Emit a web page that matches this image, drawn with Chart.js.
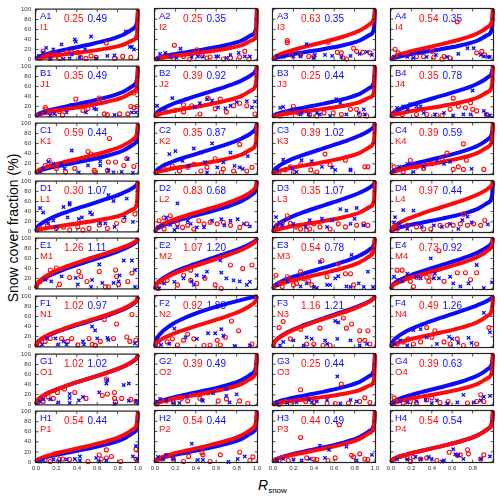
<!DOCTYPE html>
<html>
<head>
<meta charset="utf-8">
<script src="https://cdn.jsdelivr.net/npm/chart.js@4.4.0/dist/chart.umd.min.js"></script>
<style>
  body { margin: 0; background: #fff; }
  #wrap { position: relative; width: 500px; height: 497px; overflow: hidden; font-family: "Liberation Sans", Arial, sans-serif; }
  #wrap canvas { position: absolute; }
  #ylab { position: absolute; left: 13px; top: 228px; transform: translate(-50%, -50%) rotate(-90deg); font-size: 14px; white-space: nowrap; color: #000; }
  #xlab { position: absolute; left: 258px; top: 478px; font-size: 14px; line-height: 14px; font-style: italic; color: #000; }
  #xlab sub { font-size: 8px; font-style: normal; vertical-align: -3px; }
</style>
</head>
<body>
<div id="wrap">
  <div id="ylab">Snow cover fraction (%)</div>
  <div id="xlab">R<sub>snow</sub></div>
</div>
<script>
// panel names, row by row (A1..H4 in blue, I1..P4 in red)
const blueNames = ['A1','A2','A3','A4','B1','B2','B3','B4','C1','C2','C3','C4','D1','D2','D3','D4',
                   'E1','E2','E3','E4','F1','F2','F3','F4','G1','G2','G3','G4','H1','H2','H3','H4'];
const redNames  = ['I1','I2','I3','I4','J1','J2','J3','J4','K1','K2','K3','K4','L1','L2','L3','L4',
                   'M1','M2','M3','M4','N1','N2','N3','N4','O1','O2','O3','O4','P1','P2','P3','P4'];
const redParam  = ['0.25','0.25','0.63','0.54','0.35','0.39','0.25','0.35','0.59','0.35','0.39','0.39',
                   '0.30','0.83','0.35','0.97','1.26','1.07','0.54','0.73','1.02','0.92','1.16','0.49',
                   '1.02','0.39','0.25','0.39','0.54','0.54','0.44','0.54'];
const blueParam = ['0.49','0.35','0.35','0.35','0.49','0.92','0.44','0.78','0.44','0.87','1.02','0.59',
                   '1.07','0.68','1.07','0.44','1.11','1.20','0.78','0.92','0.97','1.88','1.21','1.26',
                   '1.02','0.49','0.44','0.63','0.44','0.44','0.49','0.54'];

// fitted curves, y (%) at these Rsnow knots, one row per printed value
const curveX = [0, 0.01, 0.05, 0.15, 0.3, 0.5, 0.7, 0.85, 0.95, 0.99, 1];
const curveY = {
  '0.25': [0, 1.6, 3.8, 7.0, 10.9, 15.9, 22.1, 29.1, 38.4, 49.8, 100],
  '0.30': [0, 2.0, 4.5, 8.4, 12.9, 18.8, 25.8, 33.8, 44.1, 56.2, 100],
  '0.35': [0, 2.3, 5.3, 9.7, 14.9, 21.5, 29.5, 38.2, 49.3, 61.8, 100],
  '0.39': [0, 2.5, 5.9, 10.8, 16.4, 23.7, 32.2, 41.5, 53.1, 65.8, 100],
  '0.44': [0, 2.9, 6.6, 12.1, 18.3, 26.3, 35.5, 45.4, 57.4, 70.2, 100],
  '0.49': [0, 3.2, 7.3, 13.3, 20.2, 28.8, 38.6, 49.0, 61.4, 74.0, 100],
  '0.54': [0, 3.5, 8.0, 14.6, 22.0, 31.2, 41.6, 52.4, 64.9, 77.4, 100],
  '0.59': [0, 3.8, 8.7, 15.8, 23.8, 33.6, 44.5, 55.5, 68.2, 80.3, 100],
  '0.63': [0, 4.1, 9.3, 16.8, 25.2, 35.4, 46.6, 57.9, 70.6, 82.3, 100],
  '0.68': [0, 4.4, 10.0, 18.0, 26.9, 37.6, 49.2, 60.7, 73.3, 84.6, 100],
  '0.73': [0, 4.7, 10.7, 19.2, 28.5, 39.7, 51.7, 63.3, 75.8, 86.6, 100],
  '0.78': [0, 5.0, 11.4, 20.4, 30.2, 41.8, 54.0, 65.7, 78.0, 88.3, 100],
  '0.83': [0, 5.3, 12.1, 21.5, 31.8, 43.7, 56.3, 68.0, 80.0, 89.8, 100],
  '0.87': [0, 5.6, 12.6, 22.4, 33.0, 45.3, 58.0, 69.7, 81.5, 90.9, 100],
  '0.92': [0, 5.9, 13.3, 23.6, 34.5, 47.2, 60.0, 71.7, 83.2, 92.1, 100],
  '0.97': [0, 6.2, 14.0, 24.7, 36.0, 49.0, 62.0, 73.6, 84.8, 93.1, 100],
  '1.02': [0, 6.5, 14.6, 25.8, 37.5, 50.7, 63.8, 75.4, 86.2, 94.0, 100],
  '1.07': [0, 6.8, 15.3, 26.8, 38.9, 52.4, 65.6, 77.0, 87.5, 94.7, 100],
  '1.11': [0, 7.1, 15.8, 27.7, 40.0, 53.7, 66.9, 78.2, 88.4, 95.3, 100],
  '1.16': [0, 7.4, 16.5, 28.7, 41.4, 55.2, 68.5, 79.7, 89.5, 95.9, 100],
  '1.20': [0, 7.6, 17.0, 29.6, 42.5, 56.5, 69.8, 80.8, 90.3, 96.3, 100],
  '1.21': [0, 7.7, 17.1, 29.8, 42.7, 56.8, 70.1, 81.0, 90.4, 96.4, 100],
  '1.26': [0, 8.0, 17.7, 30.8, 44.0, 58.2, 71.5, 82.3, 91.3, 96.9, 100],
  '1.88': [0, 11.7, 25.3, 42.2, 57.9, 72.8, 84.7, 92.4, 97.4, 99.4, 100]
};

// observations: flat x,y lists per panel (blue crosses / red circles)
const blueObs = [
  [0.10,23, 0.17,20, 0.25,30, 0.38,40, 0.39,36, 0.54,46, 0.48,20, 0.35,10, 0.43,4, 0.70,7, 0.77,8, 0.88,56, 0.92,25, 0.94,25, 0.96,20, 0.27,1, 0.03,7, 0.07,14, 0.59,2, 0.33,2, 0.14,2],
  [0.05,12, 0.10,14, 0.25,22, 0.15,7, 0.21,4, 0.36,6, 0.42,7, 0.47,6, 0.60,7, 0.62,7, 0.70,4, 0.74,10, 0.82,14, 0.88,7, 0.93,7, 0.03,2],
  [0.04,8, 0.10,6, 0.20,7, 0.27,7, 0.33,31, 0.41,10, 0.51,10, 0.58,8, 0.67,6, 0.76,8, 0.85,12, 0.92,16, 0.97,10, 0.40,4],
  [0.03,6, 0.09,8, 0.16,6, 0.29,14, 0.35,6, 0.44,10, 0.55,6, 0.66,12, 0.75,23, 0.81,23, 0.88,10, 0.91,7, 0.95,6, 0.97,6, 0.22,4],
  [0.04,5, 0.09,8, 0.18,5, 0.30,8, 0.35,23, 0.49,8, 0.57,16, 0.59,14, 0.77,3, 0.94,8, 0.98,8, 0.14,2],
  [0.02,22, 0.08,16, 0.17,37, 0.25,29, 0.31,35, 0.39,19, 0.44,27, 0.51,35, 0.56,32, 0.62,19, 0.69,17, 0.74,22, 0.80,29, 0.90,31, 0.98,30, 0.95,19],
  [0.07,18, 0.10,20, 0.20,15, 0.28,8, 0.35,5, 0.43,8, 0.46,5, 0.56,2, 0.62,35, 0.66,28, 0.72,5, 0.84,8, 0.89,15, 0.90,5, 0.27,5],
  [0.06,18, 0.12,21, 0.19,25, 0.25,21, 0.29,21, 0.32,8, 0.43,5, 0.52,8, 0.61,3, 0.71,5, 0.78,5, 0.80,52, 0.91,12, 0.93,5, 0.97,3, 0.16,15],
  [0.07,10, 0.12,23, 0.17,19, 0.25,19, 0.28,10, 0.35,46, 0.42,2, 0.51,16, 0.63,24, 0.63,16, 0.71,6, 0.76,2, 0.84,3, 0.90,29, 0.95,1, 0.04,3],
  [0.04,10, 0.11,19, 0.14,39, 0.20,45, 0.27,26, 0.33,16, 0.38,50, 0.45,42, 0.49,23, 0.56,60, 0.61,13, 0.67,23, 0.74,42, 0.78,16, 0.83,13, 0.86,10, 0.91,35, 0.51,3],
  [0.04,8, 0.10,28, 0.19,11, 0.28,27, 0.38,25, 0.48,14, 0.58,13, 0.61,8, 0.76,9, 0.76,7, 0.23,4],
  [0.03,6, 0.08,14, 0.16,20, 0.32,14, 0.45,27, 0.52,20, 0.58,24, 0.79,10, 0.22,4],
  [0.04,47, 0.07,38, 0.12,16, 0.17,22, 0.27,49, 0.33,54, 0.33,57, 0.31,28, 0.42,25, 0.45,28, 0.53,38, 0.55,34, 0.63,16, 0.68,16, 0.71,73, 0.76,61, 0.77,9, 0.89,66, 0.87,28, 0.95,19, 0.20,9],
  [0.03,9, 0.07,13, 0.11,28, 0.15,14, 0.22,9, 0.32,22, 0.35,16, 0.41,9, 0.48,9, 0.56,22, 0.65,25, 0.68,13, 0.74,22, 0.81,25, 0.87,16, 0.93,11, 0.19,4, 0.22,56],
  [0.03,29, 0.06,19, 0.09,13, 0.20,16, 0.32,10, 0.36,23, 0.48,26, 0.58,23, 0.66,45, 0.72,42, 0.76,16, 0.80,26, 0.82,47, 0.89,13, 0.53,10],
  [0.03,19, 0.04,29, 0.08,16, 0.12,43, 0.22,42, 0.30,10, 0.42,13, 0.50,10, 0.58,16, 0.66,6, 0.70,23, 0.75,30, 0.79,19, 0.95,15, 0.16,6],
  [0.09,17, 0.15,14, 0.25,24, 0.39,21, 0.41,8, 0.55,17, 0.62,48, 0.65,11, 0.76,11, 0.82,26, 0.86,56, 0.94,56, 0.97,37, 0.81,14, 0.54,3, 0.97,3],
  [0.04,1, 0.09,11, 0.19,14, 0.28,21, 0.36,15, 0.41,27, 0.48,24, 0.51,34, 0.64,56, 0.65,32, 0.70,21, 0.77,17, 0.83,15, 0.90,8, 0.93,14, 0.38,8],
  [0.04,8, 0.14,15, 0.27,5, 0.40,4, 0.46,53, 0.53,8, 0.56,8, 0.61,21, 0.64,25, 0.72,5, 0.76,4, 0.77,67, 0.84,11, 0.89,4, 0.93,34, 0.98,4, 0.43,2, 0.33,11],
  [0.03,24, 0.06,18, 0.11,15, 0.16,30, 0.25,24, 0.29,21, 0.39,60, 0.42,21, 0.43,30, 0.47,21, 0.58,24, 0.61,11, 0.68,5, 0.76,11, 0.84,47, 0.91,2, 0.99,13],
  [0.06,4, 0.11,16, 0.19,16, 0.22,4, 0.27,10, 0.46,10, 0.47,4, 0.55,40, 0.58,32, 0.60,16, 0.70,17, 0.71,13, 0.97,6, 0.30,4],
  [0.06,4, 0.19,36, 0.30,19, 0.41,16, 0.52,27, 0.59,27, 0.65,35, 0.67,22, 0.78,2, 0.93,3, 0.14,6],
  [0.10,10, 0.20,13, 0.30,3, 0.33,19, 0.38,16, 0.51,13, 0.53,6, 0.61,51, 0.64,48, 0.63,16, 0.76,13, 0.85,3, 0.92,6, 0.07,3],
  [0.03,6, 0.09,13, 0.22,33, 0.29,35, 0.35,19, 0.45,6, 0.57,20, 0.60,16, 0.66,8, 0.76,18, 0.79,8, 0.91,67, 0.97,29, 0.16,3],
  [0.04,6, 0.07,10, 0.14,10, 0.22,4, 0.33,3, 0.33,13, 0.33,21, 0.42,8, 0.46,15, 0.62,24, 0.69,42, 0.70,49, 0.77,1, 0.86,39, 0.91,42, 0.98,6, 0.91,7],
  [0.02,7, 0.05,12, 0.11,10, 0.24,4, 0.31,17, 0.46,10, 0.47,8, 0.57,23, 0.70,31, 0.70,18, 0.73,5, 0.80,21, 0.18,4],
  [0.04,3, 0.14,4, 0.23,5, 0.35,10, 0.43,7, 0.53,10, 0.63,56, 0.66,3, 0.76,10, 0.82,7, 0.38,5],
  [0.03,4, 0.09,7, 0.16,5, 0.25,7, 0.34,10, 0.45,9, 0.55,3, 0.65,5, 0.71,20, 0.81,5, 0.88,9, 0.91,16, 0.97,18, 0.40,4],
  [0.04,1, 0.07,4, 0.17,5, 0.30,5, 0.38,6, 0.43,11, 0.43,3, 0.59,8, 0.62,1, 0.69,3, 0.95,11, 0.98,32, 0.99,6, 0.23,1],
  [0.03,10, 0.08,6, 0.18,6, 0.36,36, 0.42,4, 0.47,4, 0.72,0, 0.81,6, 0.88,11, 0.11,14],
  [0.04,3, 0.10,6, 0.20,5, 0.36,6, 0.46,32, 0.51,8, 0.55,24, 0.72,30, 0.82,3, 0.97,14, 0.28,3],
  [0.06,5, 0.16,5, 0.24,10, 0.29,6, 0.37,10, 0.40,6, 0.52,3, 0.61,25, 0.63,15, 0.66,13, 0.71,6, 0.88,6, 0.97,11, 0.50,1]
];
const redObs = [
  [0.07,17, 0.09,7, 0.14,10, 0.18,14, 0.30,14, 0.35,15, 0.41,14, 0.44,4, 0.49,2, 0.59,4, 0.69,33, 0.77,2, 0.85,6, 0.93,4, 0.14,2, 0.23,2, 0.04,2, 0.54,7],
  [0.19,29, 0.11,10, 0.16,6, 0.28,7, 0.41,20, 0.46,9, 0.51,4, 0.54,6, 0.67,2, 0.74,4, 0.83,6, 0.88,17, 0.92,2, 0.07,4, 0.34,2],
  [0.14,34, 0.14,38, 0.18,10, 0.27,10, 0.35,7, 0.40,7, 0.54,35, 0.63,15, 0.67,14, 0.72,2, 0.79,23, 0.82,17, 0.88,15, 0.95,14, 0.69,4],
  [0.04,21, 0.07,14, 0.16,10, 0.25,7, 0.32,7, 0.42,6, 0.52,7, 0.58,4, 0.65,75, 0.84,14, 0.89,17, 0.92,10, 0.40,17, 0.50,2],
  [0.09,18, 0.10,15, 0.14,8, 0.18,12, 0.23,10, 0.39,35, 0.46,12, 0.51,16, 0.62,37, 0.67,5, 0.70,3, 0.82,5, 0.90,5, 0.93,20, 0.96,18, 0.98,52, 0.96,47, 0.99,20, 0.26,3],
  [0.03,6, 0.11,10, 0.20,13, 0.28,10, 0.36,22, 0.44,6, 0.52,37, 0.59,16, 0.64,35, 0.70,10, 0.77,22, 0.83,27, 0.90,22, 0.98,6, 0.28,24],
  [0.14,8, 0.20,21, 0.25,8, 0.36,5, 0.50,8, 0.59,8, 0.67,5, 0.76,15, 0.82,15, 0.85,5, 0.92,2, 0.07,2, 0.43,2],
  [0.03,8, 0.11,5, 0.17,12, 0.25,5, 0.35,5, 0.45,3, 0.50,3, 0.58,15, 0.61,37, 0.66,21, 0.73,18, 0.78,28, 0.80,15, 0.84,12, 0.94,5],
  [0.04,6, 0.09,16, 0.13,26, 0.20,10, 0.29,3, 0.38,10, 0.51,44, 0.54,39, 0.57,6, 0.71,23, 0.72,70, 0.78,23, 0.86,16, 0.89,30, 0.96,14, 0.70,6, 0.58,3],
  [0.09,10, 0.17,16, 0.24,6, 0.32,13, 0.38,19, 0.45,6, 0.51,13, 0.59,30, 0.67,10, 0.77,6, 0.83,58, 0.90,6, 0.95,13, 0.65,3],
  [0.06,4, 0.12,8, 0.17,14, 0.27,18, 0.37,8, 0.51,39, 0.56,18, 0.71,27, 0.90,14, 0.93,14, 0.43,4, 0.20,3],
  [0.03,14, 0.09,11, 0.19,27, 0.25,14, 0.32,11, 0.40,20, 0.50,30, 0.55,41, 0.61,9, 0.66,14, 0.71,59, 0.74,27, 0.71,9, 0.91,9, 0.12,4],
  [0.04,6, 0.11,13, 0.20,6, 0.27,9, 0.33,3, 0.41,9, 0.52,6, 0.62,13, 0.70,6, 0.79,16, 0.86,22, 0.97,35, 0.46,3],
  [0.04,22, 0.09,28, 0.12,19, 0.15,32, 0.22,16, 0.27,9, 0.32,13, 0.38,6, 0.43,22, 0.48,16, 0.54,19, 0.61,16, 0.67,19, 0.74,13, 0.83,9, 0.90,16, 0.09,6],
  [0.04,13, 0.09,17, 0.14,32, 0.17,17, 0.22,10, 0.27,6, 0.33,3, 0.40,16, 0.46,10, 0.56,6, 0.64,16, 0.71,10, 0.82,13, 0.89,16, 0.93,13, 0.36,6],
  [0.06,6, 0.16,13, 0.25,10, 0.39,6, 0.48,13, 0.55,13, 0.61,13, 0.68,16, 0.71,35, 0.75,13, 0.81,16, 0.88,13, 0.92,23, 0.32,6],
  [0.04,14, 0.10,21, 0.14,37, 0.20,41, 0.23,8, 0.33,22, 0.42,34, 0.44,24, 0.50,14, 0.62,34, 0.68,3, 0.78,37, 0.79,24, 0.81,8, 0.90,14, 0.94,31, 0.71,3],
  [0.03,1, 0.06,14, 0.12,17, 0.22,8, 0.28,27, 0.35,17, 0.41,11, 0.49,21, 0.59,8, 0.65,1, 0.74,47, 0.86,40, 0.95,47, 0.35,37],
  [0.03,27, 0.07,11, 0.14,24, 0.17,18, 0.20,8, 0.23,11, 0.27,34, 0.30,20, 0.35,16, 0.38,8, 0.48,56, 0.53,24, 0.64,49, 0.71,30, 0.76,30, 0.79,8, 0.97,72, 0.09,5],
  [0.06,37, 0.11,37, 0.16,24, 0.19,15, 0.25,23, 0.35,23, 0.37,15, 0.40,24, 0.47,75, 0.52,15, 0.65,32, 0.73,32, 0.84,32, 0.78,18, 0.22,5],
  [0.04,4, 0.09,10, 0.14,16, 0.25,16, 0.31,10, 0.35,16, 0.41,3, 0.52,16, 0.58,2, 0.63,10, 0.67,54, 0.76,16, 0.79,45, 0.89,19, 0.92,10, 0.94,64, 0.98,13, 0.55,4],
  [0.03,4, 0.12,10, 0.17,16, 0.22,4, 0.28,13, 0.32,25, 0.38,16, 0.48,3, 0.61,13, 0.64,4, 0.69,19, 0.75,51, 0.82,32, 0.95,6, 0.54,4],
  [0.06,38, 0.10,50, 0.17,16, 0.27,35, 0.33,6, 0.40,6, 0.46,37, 0.49,3, 0.69,57, 0.72,37, 0.77,45, 0.85,32, 0.85,13, 0.90,13, 0.93,32, 0.95,6, 0.56,3],
  [0.06,6, 0.12,10, 0.17,16, 0.22,6, 0.35,38, 0.40,19, 0.43,32, 0.52,10, 0.58,6, 0.65,16, 0.71,3, 0.84,6, 0.96,38, 0.29,10],
  [0.02,4, 0.07,6, 0.12,15, 0.17,12, 0.21,24, 0.28,31, 0.38,24, 0.49,12, 0.65,18, 0.69,51, 0.70,21, 0.77,24, 0.77,12, 0.78,5, 0.84,12, 0.93,10, 0.98,6],
  [0.02,2, 0.06,8, 0.11,8, 0.18,6, 0.26,13, 0.32,8, 0.44,13, 0.52,24, 0.62,8, 0.70,12, 0.83,8, 0.91,3],
  [0.06,1, 0.17,3, 0.27,30, 0.32,7, 0.40,5, 0.53,3, 0.61,3, 0.67,41, 0.74,4, 0.85,7, 0.90,14, 0.95,5, 0.12,7],
  [0.03,14, 0.06,7, 0.12,4, 0.19,7, 0.25,4, 0.35,10, 0.40,14, 0.48,5, 0.56,7, 0.75,4, 0.84,7, 0.88,20, 0.91,7],
  [0.09,4, 0.18,16, 0.23,5, 0.26,6, 0.33,5, 0.51,1, 0.62,14, 0.64,6, 0.69,8, 0.69,24, 0.74,11, 0.83,1, 0.98,25, 0.98,6, 0.14,1],
  [0.02,3, 0.07,6, 0.13,13, 0.18,6, 0.28,1, 0.33,11, 0.46,18, 0.47,14, 0.54,1, 0.64,14, 0.83,19, 0.93,3, 0.96,10],
  [0.06,3, 0.15,3, 0.27,48, 0.33,8, 0.40,6, 0.43,5, 0.54,3, 0.61,8, 0.65,73, 0.77,13, 0.79,10, 0.85,16, 0.90,6, 0.93,5],
  [0.03,6, 0.09,11, 0.16,8, 0.22,10, 0.29,6, 0.35,8, 0.45,3, 0.57,19, 0.65,13, 0.68,14, 0.75,24, 0.76,16, 0.88,6, 0.91,14, 0.19,1]
];

const xTickVals = [0, 0.2, 0.4, 0.6, 0.8, 1.0];
const yTickVals = [0, 20, 40, 60, 80, 100];

// layout of the 8 x 4 grid (plot area pixels)
const colLeft = [36, 155, 273, 391];
const rowTop = [9, 66, 123, 181, 238, 296, 354, 411];
const plotW = 102, plotH = 51, pad = 8, yAxisW = 26, xAxisH = 14;
const BLUE = '#0a0aff', RED = '#ff0a0a';
const FONT = '"Liberation Sans", Arial, sans-serif';

function pairs(flat) {
  const out = [];
  for (let k = 0; k < flat.length; k += 2) out.push({x: flat[k], y: flat[k + 1]});
  return out;
}
function curve(key) {
  return curveX.map((x, k) => ({x: x, y: curveY[key][k]}));
}

const panelDeco = {
  id: 'panelDeco',
  beforeDatasetsDraw(chart, args, opts) {
    const ctx = chart.ctx, a = chart.chartArea, i = opts.i;
    ctx.save();
    ctx.font = '9.5px ' + FONT;
    ctx.fillStyle = BLUE;
    ctx.fillText(blueNames[i], a.left + 4, a.top + 9.5);
    ctx.fillStyle = RED;
    ctx.fillText(redNames[i], a.left + 4, a.top + 20.5);
    ctx.font = '10px ' + FONT;
    ctx.fillText(redParam[i], a.left + 28, a.top + 12.7);
    ctx.fillStyle = BLUE;
    ctx.fillText(blueParam[i], a.left + 51.5, a.top + 12.7);
    ctx.restore();
  },
  afterDraw(chart) {
    const ctx = chart.ctx, a = chart.chartArea;
    const sx = chart.scales.x, sy = chart.scales.y;
    ctx.save();
    ctx.strokeStyle = '#222';
    ctx.lineWidth = 1.2;
    ctx.strokeRect(a.left - 0.5, a.top - 0.5, a.right - a.left + 1, a.bottom - a.top + 1);
    ctx.lineWidth = 0.8;
    ctx.beginPath();
    xTickVals.forEach(v => {
      const px = sx.getPixelForValue(v);
      ctx.moveTo(px, a.bottom); ctx.lineTo(px, a.bottom - 2.5);
      ctx.moveTo(px, a.top); ctx.lineTo(px, a.top + 2.5);
    });
    yTickVals.forEach(v => {
      const py = sy.getPixelForValue(v);
      ctx.moveTo(a.left, py); ctx.lineTo(a.left + 2.5, py);
      ctx.moveTo(a.right, py); ctx.lineTo(a.right - 2.5, py);
    });
    ctx.stroke();
    ctx.restore();
  }
};

const wrap = document.getElementById('wrap');

for (let i = 0; i < 32; i++) {
  const r = Math.floor(i / 4), c = i % 4;
  const isLeft = c === 0, isBottom = r === 7;
  const w = plotW + 2 * pad + (isLeft ? yAxisW : 0);
  const h = plotH + 2 * pad + (isBottom ? xAxisH : 0);
  const cv = document.createElement('canvas');
  cv.width = w; cv.height = h;
  cv.style.width = w + 'px'; cv.style.height = h + 'px';
  cv.style.left = (colLeft[c] - pad - (isLeft ? yAxisW : 0)) + 'px';
  cv.style.top = (rowTop[r] - pad) + 'px';
  wrap.appendChild(cv);

  new Chart(cv, {
    type: 'scatter',
    data: {
      datasets: [
        { data: pairs(blueObs[i]), pointStyle: 'crossRot', pointRadius: 2.4, borderColor: BLUE, borderWidth: 1.3, clip: 4 },
        { data: pairs(redObs[i]), pointStyle: 'circle', pointRadius: 2, borderColor: RED, backgroundColor: 'rgba(0,0,0,0)', borderWidth: 1.1, clip: 4 },
        { data: curve(redParam[i]), showLine: true, pointRadius: 0, borderColor: RED, borderWidth: 4, cubicInterpolationMode: 'monotone', clip: 2 },
        { data: curve(blueParam[i]), showLine: true, pointRadius: 0, borderColor: BLUE, borderWidth: 4, cubicInterpolationMode: 'monotone', clip: 2 }
      ]
    },
    options: {
      responsive: false,
      animation: false,
      devicePixelRatio: 1,
      events: [],
      layout: { padding: pad },
      plugins: { legend: { display: false }, tooltip: { enabled: false }, panelDeco: { i: i } },
      scales: {
        x: {
          type: 'linear', min: 0, max: 1, display: isBottom,
          grid: { display: false, drawTicks: false }, border: { display: false },
          ticks: {
            stepSize: 0.2, autoSkip: false, maxRotation: 0, padding: 3, color: '#333',
            font: { size: 6, family: FONT },
            callback: v => (c === 3 && v > 0.95) ? '' : Number(v).toFixed(1)
          },
          afterFit: s => { s.height = isBottom ? xAxisH : 0; }
        },
        y: {
          type: 'linear', min: 0, max: 100, display: isLeft,
          grid: { display: false, drawTicks: false }, border: { display: false },
          ticks: { stepSize: 20, autoSkip: false, padding: 5, color: '#333', font: { size: 6, family: FONT } },
          afterFit: s => { s.width = isLeft ? yAxisW : 0; }
        }
      }
    },
    plugins: [panelDeco]
  });
}
</script>
</body>
</html>
